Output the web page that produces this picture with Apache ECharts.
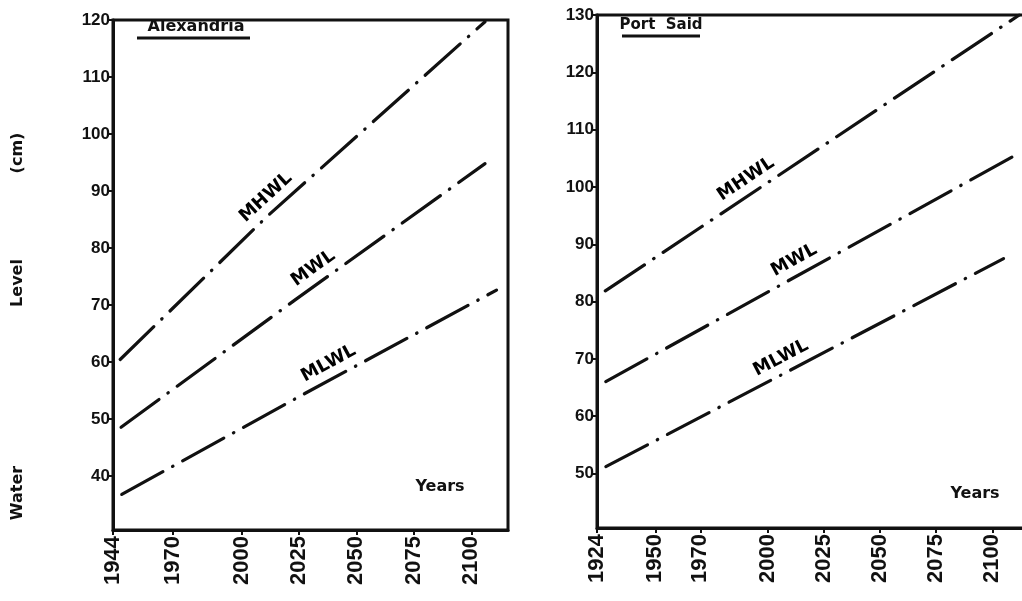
<!DOCTYPE html>
<html>
<head>
<meta charset="utf-8">
<script src="https://cdn.jsdelivr.net/npm/echarts@6/dist/echarts.min.js"></script>
<style>
  html, body { margin: 0; padding: 0; background: #fff; }
  #chart { width: 1022px; height: 601px; }
</style>
</head>
<body>
<div id="chart"></div>
<script>
// ---- Alexandria: projected water levels (cm) ----
const alexTickYears = [1944, 1970, 2000, 2025, 2050, 2075, 2100];
const alexTickLevels = [40, 50, 60, 70, 80, 90, 100, 110, 120];
const alexMHWL = [[1944, 59.2], [2011, 85.5], [2106, 119.7]];
const alexMWL = [[1944, 47.5], [2023, 70.8], [2106, 94.8]];
const alexMLWL = [[1944, 35.9], [2025, 53.9], [2111, 72.6]];

// ---- Port Said: projected water levels (cm) ----
const portTickYears = [1924, 1950, 1970, 2000, 2025, 2050, 2075, 2100];
const portTickLevels = [50, 60, 70, 80, 90, 100, 110, 120, 130];
const portMHWL = [[1924, 80.9], [2112, 130.0]];
const portMWL = [[1924, 65.2], [2112, 105.9]];
const portMLWL = [[1924, 50.4], [2105, 87.5]];

// Year along each line where its name is written
const alexNameYears = [2015, 2035, 2041];
const portNameYears = [1994, 2015, 2009];
const lineNames = ['MHWL', 'MWL', 'MLWL'];

const FONT = "'Liberation Sans',Arial,sans-serif";
const INK = '#111';

const chart = echarts.init(document.getElementById('chart'), null, { renderer: 'canvas' });

function xAxisCfg(gridIndex, min, max, ticks) {
  return {
    gridIndex, type: 'value', min, max,
    axisLine: { show: true, onZero: false, lineStyle: { color: INK, width: 3 } },
    axisTick: { show: true, customValues: ticks, length: 5, lineStyle: { color: INK, width: 2 } },
    axisLabel: {
      customValues: ticks, rotate: 90, margin: 6, color: INK,
      fontFamily: FONT, fontWeight: 'bold', fontSize: 22,
      formatter: v => String(v)
    },
    splitLine: { show: false }
  };
}
function yAxisCfg(gridIndex, min, max, ticks) {
  return {
    gridIndex, type: 'value', min, max,
    axisLine: { show: true, onZero: false, lineStyle: { color: INK, width: 3 } },
    axisTick: { show: true, customValues: ticks, length: 6, lineStyle: { color: INK, width: 2 } },
    axisLabel: {
      customValues: ticks, margin: 3, color: INK,
      fontFamily: FONT, fontWeight: 'bold', fontSize: 17,
      formatter: v => String(v)
    },
    splitLine: { show: false }
  };
}
const dashDot = { color: INK, width: 3.2, type: [47, 11, 0.5, 11], cap: 'round', dashOffset: -10 };
function levelLine(name, data, idx) {
  return {
    name, type: 'line', xAxisIndex: idx, yAxisIndex: idx, data,
    showSymbol: false, silent: true, lineStyle: dashDot, z: 3
  };
}

// value of a polyline at a given year
function levelAt(points, year) {
  for (let i = 1; i < points.length; i++) {
    const [x0, y0] = points[i - 1], [x1, y1] = points[i];
    if (year <= x1 || i === points.length - 1) {
      return y0 + (y1 - y0) * (year - x0) / (x1 - x0);
    }
  }
}

const alexLines = [alexMHWL, alexMWL, alexMLWL];
const portLines = [portMHWL, portMWL, portMLWL];

const titleStyle = { fill: INK, font: "bold 16px 'DejaVu Sans', sans-serif" };
const portTitleStyle = { fill: INK, font: "bold 15px 'DejaVu Sans', sans-serif" };
const axisNameStyle = { fill: INK, font: "bold 16px 'DejaVu Sans', sans-serif" };

const option = {
  animation: false,
  backgroundColor: '#fff',
  grid: [
    { left: 113, top: 20, width: 395, height: 510, show: true, borderColor: INK, borderWidth: 3, outerBoundsMode: 'none' },
    { left: 597, top: 15, width: 429, height: 513, show: true, borderColor: INK, borderWidth: 3, outerBoundsMode: 'none' }
  ],
  xAxis: [
    xAxisCfg(0, 1944, 2116, alexTickYears),
    xAxisCfg(1, 1924, 2115, portTickYears)
  ],
  yAxis: [
    yAxisCfg(0, 30.5, 120, alexTickLevels),
    yAxisCfg(1, 40.5, 130, portTickLevels)
  ],
  series: [
    levelLine('MHWL', alexMHWL, 0),
    levelLine('MWL', alexMWL, 0),
    levelLine('MLWL', alexMLWL, 0),
    levelLine('MHWL', portMHWL, 1),
    levelLine('MWL', portMWL, 1),
    levelLine('MLWL', portMLWL, 1)
  ],
  graphic: [
    // y-axis title, written bottom to top
    { type: 'text', x: 18, y: 493, rotation: Math.PI / 2, style: Object.assign({ text: 'Water', align: 'center', verticalAlign: 'middle' }, axisNameStyle) },
    { type: 'text', x: 18, y: 283, rotation: Math.PI / 2, style: Object.assign({ text: 'Level', align: 'center', verticalAlign: 'middle' }, axisNameStyle) },
    { type: 'text', x: 18, y: 153, rotation: Math.PI / 2, style: Object.assign({ text: '(cm)', align: 'center', verticalAlign: 'middle' }, axisNameStyle) },
    // panel titles with underline
    { type: 'text', x: 196, y: 27, style: Object.assign({ text: 'Alexandria', align: 'center', verticalAlign: 'middle' }, titleStyle) },
    { type: 'line', shape: { x1: 137, y1: 38, x2: 250, y2: 38 }, style: { stroke: INK, lineWidth: 3 } },
    { type: 'text', x: 661, y: 25, style: Object.assign({ text: 'Port  Said', align: 'center', verticalAlign: 'middle' }, portTitleStyle) },
    { type: 'line', shape: { x1: 622, y1: 36, x2: 700, y2: 36 }, style: { stroke: INK, lineWidth: 3 } },
    // axis captions inside the plots
    { type: 'text', x: 440, y: 487, style: Object.assign({ text: 'Years', align: 'center', verticalAlign: 'middle' }, titleStyle) },
    { type: 'text', x: 975, y: 494, style: Object.assign({ text: 'Years', align: 'center', verticalAlign: 'middle' }, titleStyle) }
  ]
};
chart.setOption(option);

// Write each line's name along it, tilted to the line's on-screen slope
function nameSeries(lines, years, idx) {
  return lines.map((pts, i) => {
    const year = years[i];
    const level = levelAt(pts, year);
    const a = chart.convertToPixel({ gridIndex: idx }, [year - 10, levelAt(pts, year - 10)]);
    const b = chart.convertToPixel({ gridIndex: idx }, [year + 10, levelAt(pts, year + 10)]);
    const angle = Math.atan2(a[1] - b[1], b[0] - a[0]) * 180 / Math.PI;
    return {
      type: 'scatter', xAxisIndex: idx, yAxisIndex: idx, silent: true,
      symbolSize: 0, z: 4, itemStyle: { opacity: 1 },
      data: [[year, level]],
      label: {
        show: true, position: 'inside', rotate: angle, offset: [0, -15],
        formatter: lineNames[i], color: '#000',
        fontFamily: "'DejaVu Sans', sans-serif", fontWeight: 'bold', fontSize: 18
      }
    };
  });
}
chart.setOption({
  series: option.series.concat(
    nameSeries(alexLines, alexNameYears, 0),
    nameSeries(portLines, portNameYears, 1)
  )
});
</script>
</body>
</html>
